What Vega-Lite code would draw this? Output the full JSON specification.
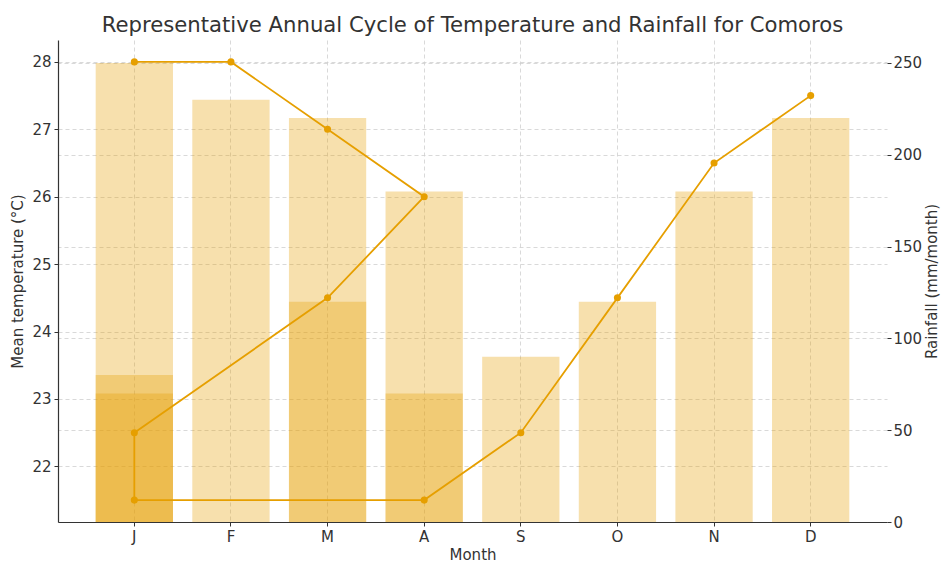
{
  "$schema": "https://vega.github.io/schema/vega-lite/v6.json",
  "autosize": {"type": "none"},
  "width": 829,
  "height": 482,
  "padding": {"left": 58, "top": 40, "right": 54, "bottom": 41},
  "background": "white",
  "title": {"text": "Representative Annual Cycle of Temperature and Rainfall for Comoros", "font": "DejaVu Sans", "fontSize": 21.2, "fontWeight": "normal", "color": "#333333", "offset": 4},
  "config": {
    "view": {"stroke": null},
    "axis": {"labelFont": "DejaVu Sans", "titleFont": "DejaVu Sans", "labelFontSize": 15, "titleFontSize": 15, "titleFontWeight": "normal", "labelColor": "#333333", "titleColor": "#333333", "tickColor": "#333333", "domainColor": "#333333", "gridColor": "#cfcfcf", "gridDash": [4, 3], "gridWidth": 0.8, "tickSize": 4}
  },
  "data": {"values": [
    {"idx": 1, "month": "J", "temp": 28.0, "rain": 250},
    {"idx": 2, "month": "F", "temp": 28.0, "rain": 230},
    {"idx": 3, "month": "M", "temp": 27.0, "rain": 220},
    {"idx": 4, "month": "A", "temp": 26.0, "rain": 180},
    {"idx": 5, "month": "M", "temp": 24.5, "rain": 120},
    {"idx": 6, "month": "J", "temp": 22.5, "rain": 80},
    {"idx": 7, "month": "J", "temp": 21.5, "rain": 70},
    {"idx": 8, "month": "A", "temp": 21.5, "rain": 70},
    {"idx": 9, "month": "S", "temp": 22.5, "rain": 90},
    {"idx": 10, "month": "O", "temp": 24.5, "rain": 120},
    {"idx": 11, "month": "N", "temp": 26.5, "rain": 180},
    {"idx": 12, "month": "D", "temp": 27.5, "rain": 220}
  ]},
  "encoding": {
    "x": {"field": "month", "type": "nominal", "title": "Month",
      "scale": {"domain": ["J", "F", "M", "A", "S", "O", "N", "D"], "paddingInner": 0.2, "paddingOuter": 0.39},
      "axis": {"labelAngle": 0, "grid": true, "bandPosition": 0.5, "domainWidth": 1.2, "labelPadding": 3, "titlePadding": 3}}
  },
  "layer": [
    {
      "mark": {"type": "bar", "color": "#E69F00", "opacity": 0.32},
      "encoding": {
        "y": {"field": "rain", "type": "quantitative", "title": "Rainfall (mm/month)", "stack": null,
          "scale": {"domain": [0, 262.5], "nice": false},
          "axis": {"orient": "right", "values": [0, 50, 100, 150, 200, 250], "domain": false, "grid": true, "labelPadding": 2, "titlePadding": 3, "titleAngle": 270, "titleBaseline": "top"}}
      }
    },
    {
      "mark": {"type": "line", "color": "#E69F00", "strokeWidth": 1.8, "point": {"filled": true, "size": 50, "color": "#E69F00"}},
      "encoding": {
        "order": {"field": "idx", "type": "quantitative"},
        "y": {"field": "temp", "type": "quantitative", "title": "Mean temperature (°C)",
          "scale": {"domain": [21.175, 28.325], "nice": false, "zero": false},
          "axis": {"orient": "left", "values": [22, 23, 24, 25, 26, 27, 28], "domainWidth": 1.2, "grid": true, "labelPadding": 3, "titlePadding": 6}}
      }
    }
  ],
  "resolve": {"scale": {"y": "independent"}}
}
